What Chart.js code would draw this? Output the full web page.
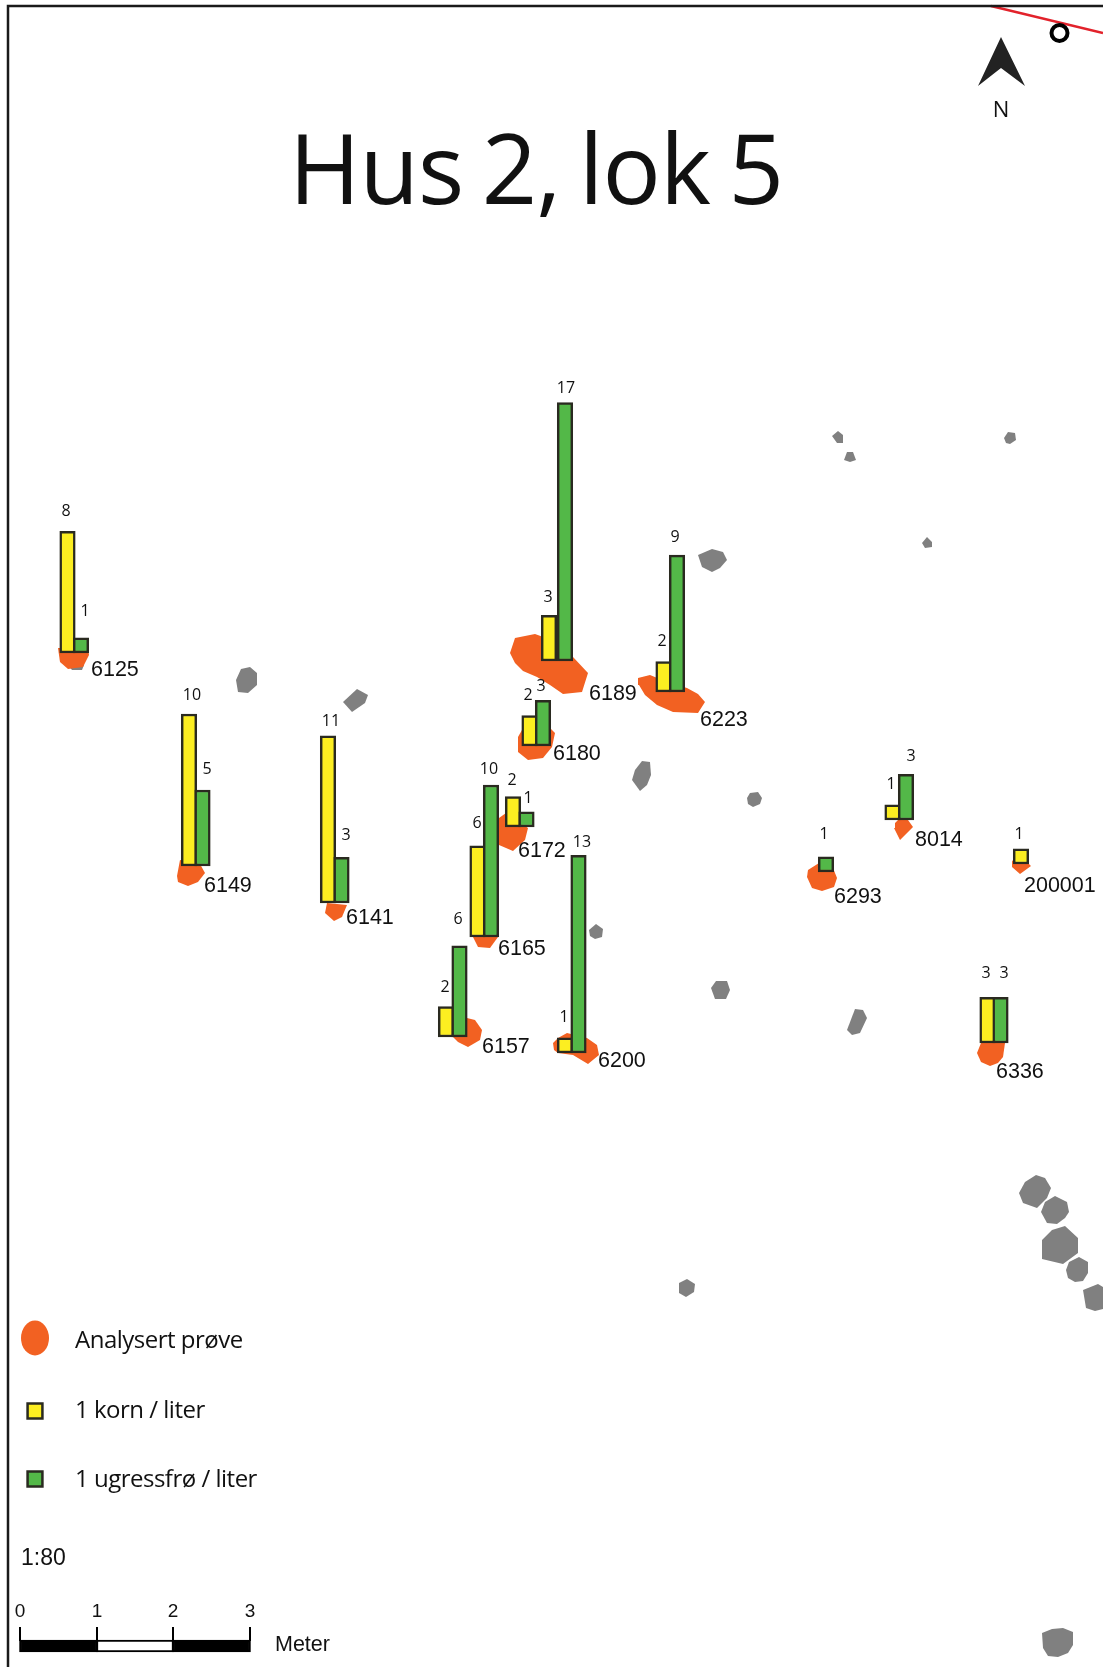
<!DOCTYPE html>
<html lang="no">

<head>
    <meta charset="UTF-8">
    <title>Hus 2, lok 5</title>
    <style>
        html, body { margin: 0; padding: 0; background: #ffffff; }
        canvas { display: block; }
    </style>
</head>

<body>
    <canvas id="kart" width="1103" height="1667"></canvas>

    <script src="https://cdn.jsdelivr.net/npm/chart.js"></script>
    <script>
        // verdiene per prove, null = ingen soyle
        const prover = ['6125', '6149', '6141', '6189', '6223', '6180', '6172', '6165', '6157', '6200', '8014', '6293', '200001', '6336'];
        const korn = [8, 10, 11, 3, 2, 2, 2, 6, 2, 1, 1, null, 1, 3];
        const ugress = [1, 5, 3, 17, 9, 3, 1, 10, 6, 13, 3, 1, null, 3];

        // kartposisjoner, i kartets egne enheter
        const kornX = [67.5, 189, 328, 549, 663.5, 529.5, 513, 477.5, 446, 565, 892.5, null, 1021, 987.5];
        const ugressX = [81, 202.5, 341.5, 565, 677, 543, 526.5, 491, 459.5, 578.5, 906, 826, null, 1000.5];
        const bunnY = [653, 866, 903, 661, 692, 746, 827, 937, 1037, 1053, 820, 872, 864, 1043];
        // hoyde for en enhet (1 korn eller 1 fro per liter)
        const enhet = 15.2;

        const proveTekstX = [91, 204, 346, 589, 700, 553, 518, 498, 482, 598, 915, 834, 1024, 996];
        const proveTekstY = [676, 892, 924, 700, 726, 760, 857, 955, 1053, 1067, 846, 903, 892, 1078];
        const kornTekstX = [66, 192, 331, 548, 662, 528, 512, 477, 445, 564, 891, null, 1019, 986];
        const kornTekstY = [516, 700, 726, 602, 646, 700, 785, 828, 992, 1022, 789, null, 839, 978];
        const ugressTekstX = [85, 207, 346, 566, 675, 541, 528, 489, 458, 582, 911, 824, null, 1004];
        const ugressTekstY = [616, 774, 840, 393, 542, 691, 803, 774, 924, 847, 761, 839, null, 978];

        const proveFlater = [
            [[58, 648], [60, 662], [68, 669], [83, 667], [89, 655], [88, 648]],
            [[180, 860], [177, 876], [178, 882], [188, 886], [198, 882], [205, 873], [200, 864]],
            [[327, 903], [325, 913], [334, 921], [342, 917], [347, 905]],
            [[515, 638], [535, 634], [557, 642], [573, 657], [588, 673], [582, 692], [563, 694], [550, 685], [537, 677], [523, 671], [515, 663], [510, 653]],
            [[638, 678], [650, 675], [667, 682], [687, 688], [698, 694], [705, 702], [698, 713], [673, 712], [657, 705], [645, 695], [639, 685]],
            [[518, 737], [522, 730], [550, 728], [555, 733], [552, 747], [543, 758], [528, 760], [518, 752]],
            [[499, 818], [506, 813], [528, 828], [525, 840], [513, 851], [499, 845]],
            [[473, 937], [478, 947], [490, 948], [498, 937]],
            [[453, 1037], [467, 1018], [475, 1020], [482, 1030], [480, 1040], [468, 1047], [458, 1042]],
            [[553, 1043], [558, 1038], [567, 1033], [587, 1038], [597, 1045], [599, 1055], [588, 1064], [573, 1055], [558, 1053], [554, 1050]],
            [[895, 823], [898, 820], [908, 820], [913, 827], [900, 840], [894, 828]],
            [[808, 870], [819, 863], [833, 868], [837, 878], [834, 887], [822, 891], [812, 888], [807, 877]],
            [[1012, 860], [1014, 863], [1028, 863], [1031, 866], [1020, 874], [1012, 867]],
            [[981, 1043], [1005, 1043], [1003, 1057], [998, 1063], [990, 1066], [981, 1062], [977, 1053]]
        ];

        const steiner = [
            [[68, 665], [84, 665], [82, 670], [72, 670]],
            [[241, 669], [250, 667], [257, 673], [257, 685], [248, 693], [238, 692], [236, 680]],
            [[343, 702], [357, 689], [368, 695], [365, 703], [352, 712]],
            [[698, 555], [712, 549], [723, 552], [727, 560], [720, 568], [712, 572], [702, 567]],
            [[635, 770], [642, 761], [650, 762], [651, 775], [647, 785], [640, 791], [632, 780]],
            [[589, 930], [596, 924], [603, 929], [602, 937], [595, 939], [590, 936]],
            [[711, 988], [716, 981], [727, 981], [730, 990], [726, 999], [715, 999]],
            [[847, 1030], [855, 1009], [863, 1010], [867, 1018], [860, 1033], [852, 1035]],
            [[747, 798], [750, 793], [758, 792], [762, 798], [760, 804], [753, 807], [748, 804]],
            [[832, 436], [838, 431], [843, 435], [843, 443], [837, 443]],
            [[844, 460], [847, 452], [853, 452], [856, 460], [850, 462]],
            [[1004, 438], [1008, 432], [1015, 433], [1016, 440], [1010, 444], [1006, 443]],
            [[922, 543], [927, 537], [932, 542], [932, 547], [925, 548]],
            [[679, 1283], [687, 1279], [695, 1284], [694, 1292], [686, 1297], [679, 1293]],
            [[1019, 1193], [1025, 1182], [1036, 1175], [1045, 1178], [1051, 1188], [1047, 1198], [1037, 1208], [1023, 1203]],
            [[1041, 1212], [1045, 1202], [1055, 1196], [1067, 1202], [1069, 1212], [1065, 1218], [1057, 1224], [1047, 1223]],
            [[1042, 1240], [1052, 1230], [1065, 1226], [1078, 1238], [1078, 1253], [1063, 1264], [1042, 1259]],
            [[1066, 1270], [1069, 1262], [1079, 1257], [1088, 1262], [1088, 1273], [1083, 1281], [1075, 1282], [1068, 1278]],
            [[1083, 1290], [1098, 1284], [1103, 1287], [1103, 1309], [1095, 1311], [1086, 1308]],
            [[1042, 1633], [1052, 1629], [1063, 1628], [1073, 1632], [1073, 1645], [1068, 1653], [1058, 1657], [1048, 1656], [1043, 1648]]
        ];

        const nordpil = [[1001, 37], [978, 86], [1001, 68], [1025, 86]];
        const ramme = [[8, 1667], [8, 6], [1103, 6]];
        const rodLinje = [[991, 6], [1103, 33]];
        const ring = [[1059.5, 33]];
        const maalestokkMeter = ['0', '1', '2', '3'];
        const maalestokkX = [20, 97, 173, 250];

        const ORANSJE = '#f26122';
        const GUL = '#fcee21';
        const GRONN = '#53b848';
        const KANT = '#2a2a20';
        const FONT_KART = '"Liberation Sans"';
        const FONT_TEKST = '"Open Sans"';

        // oval som punktstil, oppsummeringen skal ha en jevn kant
        function ovalPunkt() {
            const c = document.createElement('canvas');
            c.width = 30;
            c.height = 36;
            const g = c.getContext('2d');
            g.fillStyle = ORANSJE;
            g.beginPath();
            g.ellipse(15, 18, 14, 17.5, 0, 0, Math.PI * 2);
            g.fill();
            return c;
        }

        function tilPunkter(liste) {
            return liste.map(p => ({ x: p[0], y: p[1] }));
        }

        function flate(liste, farge, rekkefolge) {
            const punkter = tilPunkter(liste);
            punkter.push(punkter[0]);
            return {
                type: 'scatter',
                showLine: true,
                data: punkter,
                fill: 'shape',
                backgroundColor: farge,
                borderColor: farge,
                borderWidth: 0,
                pointRadius: 0,
                order: rekkefolge
            };
        }

        function linje(liste, farge, bredde) {
            return {
                type: 'scatter',
                showLine: true,
                data: tilPunkter(liste),
                borderColor: farge,
                borderWidth: bredde,
                pointRadius: 0,
                fill: false,
                order: 5
            };
        }

        function punkt(x, y, stil, radius, fyll, kant) {
            return {
                type: 'scatter',
                data: [{ x: x, y: y }],
                pointStyle: stil,
                pointRadius: radius,
                pointBackgroundColor: fyll,
                pointBorderColor: kant,
                pointBorderWidth: 2.5,
                order: 1
            };
        }

        function soyler(xListe, verdier, farge, rekkefolge) {
            const data = [];
            for (let i = 0; i < verdier.length; i++) {
                if (verdier[i] !== null) {
                    data.push({ x: xListe[i], y: [bunnY[i], bunnY[i] - verdier[i] * enhet] });
                }
            }
            return {
                type: 'bar',
                data: data,
                grouped: false,
                barThickness: 15.5,
                backgroundColor: farge,
                borderColor: KANT,
                borderWidth: 2.5,
                borderSkipped: false,
                order: rekkefolge
            };
        }

        function stokkDel(x, bredde, farge) {
            return {
                type: 'bar',
                data: [{ x: x, y: [1640, 1652] }],
                grouped: false,
                barThickness: bredde,
                backgroundColor: farge,
                borderColor: '#000000',
                borderWidth: 2,
                borderSkipped: false,
                order: 1
            };
        }

        const datasett = [];
        steiner.forEach(s => datasett.push(flate(s, '#808080', 10)));
        proveFlater.forEach(f => datasett.push(flate(f, ORANSJE, 9)));
        datasett.push(soyler(kornX, korn, GUL, 3));
        datasett.push(soyler(ugressX, ugress, GRONN, 2));

        datasett.push(linje(ramme, '#1a1a1a', 2.5));
        datasett.push(linje(rodLinje, '#e2222b', 2.5));
        datasett.push(flate(nordpil, '#222222', 4));
        datasett.push(Object.assign(punkt(ring[0][0], ring[0][1], 'circle', 8, '#ffffff', '#000000'), { pointBorderWidth: 4 }));

        // oppsummering og maalestokk
        datasett.push(punkt(35, 1338, ovalPunkt(), 18, ORANSJE, ORANSJE));
        datasett.push(punkt(35, 1411, 'rect', 10.5, GUL, KANT));
        datasett.push(punkt(35, 1479, 'rect', 10.5, GRONN, KANT));
        datasett.push(stokkDel(58.5, 78, '#000000'));
        datasett.push(stokkDel(135, 77, '#ffffff'));
        datasett.push(stokkDel(211.5, 78, '#000000'));
        maalestokkX.forEach(x => datasett.push(linje([[x, 1627], [x, 1641]], '#000000', 2)));

        const tekster = {
            id: 'tekster',
            afterDatasetsDraw(chart) {
                const g = chart.ctx;
                const sx = chart.scales.x;
                const sy = chart.scales.y;

                function skriv(tekst, x, y, font, justering) {
                    g.font = font;
                    g.textAlign = justering || 'left';
                    g.textBaseline = 'alphabetic';
                    g.fillStyle = '#111111';
                    g.fillText(tekst, sx.getPixelForValue(x), sy.getPixelForValue(y));
                }

                g.save();
                for (let i = 0; i < prover.length; i++) {
                    skriv(prover[i], proveTekstX[i], proveTekstY[i], '21.5px ' + FONT_KART);
                    if (korn[i] !== null) {
                        skriv(String(korn[i]), kornTekstX[i], kornTekstY[i], '16px ' + FONT_TEKST, 'center');
                    }
                    if (ugress[i] !== null) {
                        skriv(String(ugress[i]), ugressTekstX[i], ugressTekstY[i], '16px ' + FONT_TEKST, 'center');
                    }
                }

                skriv('N', 1001, 117, '22px ' + FONT_TEKST, 'center');
                skriv('1:80', 21, 1565, '23px ' + FONT_KART);
                skriv('Meter', 275, 1651, '21.5px ' + FONT_KART);
                maalestokkMeter.forEach((m, i) => skriv(m, maalestokkX[i], 1617, '19px ' + FONT_KART, 'center'));

                g.letterSpacing = '-0.5px';
                skriv('Analysert prøve', 75, 1348, '24px ' + FONT_TEKST);
                skriv('1 korn / liter', 75, 1418, '24px ' + FONT_TEKST);
                skriv('1 ugressfrø / liter', 75, 1487, '24px ' + FONT_TEKST);

                // tittelen er smalere i originalen enn Open Sans
                g.letterSpacing = '-1px';
                g.wordSpacing = '-5.5px';
                skriv('Hus 2, lok 5', 536, 204, '97px ' + FONT_TEKST, 'center');
                g.restore();
            }
        };

        new Chart(document.getElementById('kart'), {
            type: 'bar',
            data: { datasets: datasett },
            options: {
                responsive: false,
                animation: false,
                layout: { padding: 0, autoPadding: false },
                plugins: {
                    legend: { display: false },
                    tooltip: { enabled: false }
                },
                scales: {
                    x: { type: 'linear', min: 0, max: 1103, offset: false, display: false },
                    y: { type: 'linear', min: 0, max: 1667, reverse: true, display: false }
                }
            },
            plugins: [tekster]
        });
    </script>
</body>

</html>
